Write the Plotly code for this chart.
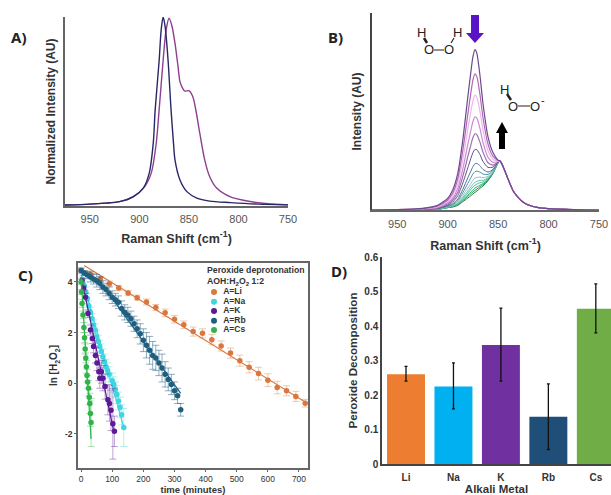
import plotly.graph_objects as go

W, H = 611, 495
FONT = "Liberation Sans"

# Panel A
a_dark_x = [975,950,935,920,906,896,890,886,884,880,878,876,874,871,868,865.5,864,859,852,842,829,808,780,750]
a_dark_y = [0.005,0.01,0.015,0.023,0.05,0.095,0.174,0.33,0.51,0.77,0.93,1.0,0.95,0.77,0.51,0.33,0.243,0.138,0.076,0.042,0.026,0.018,0.01,0.006]
a_mag_x = [975,950,935,920,906,895,888,883,880,876,873,870,867,864,861,859,856,854,850,846,843,839,834,829,822,808,790,770,750]
a_mag_y = [0.005,0.01,0.015,0.023,0.05,0.1,0.174,0.33,0.51,0.77,0.93,0.993,0.95,0.86,0.74,0.658,0.62,0.608,0.61,0.578,0.508,0.385,0.243,0.155,0.095,0.048,0.025,0.012,0.006]

# Panel B
b_left_x = [975,950,925,910,900,895,890,885,880,877,875,873,871,868,865,860,855,850]
b_tail_x = [848,845,840,835,830,825,820,810,800,775,750]
b_tail_y = [147,130,92,57,37,23,15,7,4,1,0]
b_curves = [
    [0,1,5,14,35,60,110,210,340,415,460,482,470,405,320,220,172,150],
    [0,1,4,12,30,51,94,179,288,352,390,409,400,347,278,198,161,149],
    [0,1,4,10,26,44,79,151,243,296,328,345,338,296,241,178,152,147],
    [0,1,3,8,22,36,65,123,197,240,266,280,276,245,203,158,143,146],
    [0,0,3,7,18,30,53,101,161,196,217,229,226,204,174,142,135,145],
    [0,0,2,6,15,24,43,81,127,155,172,182,181,167,146,128,129,144],
    [0,0,2,4,13,19,33,62,97,117,130,139,140,133,122,114,122,144],
    [0,0,2,4,11,16,28,52,80,97,108,115,117,114,108,107,119,143],
    [0,0,1,3,10,14,24,44,66,80,89,96,98,99,97,101,116,143],
    [0,0,1,3,9,13,21,38,57,69,77,83,86,89,89,97,114,143],
    [0,0,1,3,8,12,19,34,51,62,69,74,78,82,84,95,113,142],
    [0,0,1,2,8,11,17,31,45,54,60,66,69,75,79,92,112,142],
    [0,0,1,2,7,10,15,28,41,49,54,59,63,70,76,90,111,142],
    [0,0,1,2,7,9,14,25,36,43,48,53,57,65,72,88,110,142],
]
b_colors = ["#6b4a90","#b565b8","#eab8ea","#cf8ad4","#9a6fb0","#5c5088","#55708f","#4f8ea3","#86c6cc","#66c2b4","#44c092","#30b274","#239455","#2a7f42"]

# Panel C
li_t = [0,30,62,91,121,151,180,210,240,270,300,330,360,390,420,450,480,510,540,570,600,630,660,690,720]
li_y = [4.45,4.3,4.13,3.93,3.76,3.56,3.38,3.21,2.99,2.78,2.53,2.31,2.04,1.97,1.72,1.47,1.19,0.89,0.63,0.38,0.12,-0.17,-0.3,-0.52,-0.79]
li_e = [0.1,0.1,0.1,0.1,0.1,0.1,0.1,0.12,0.12,0.15,0.15,0.15,0.18,0.18,0.2,0.2,0.2,0.22,0.22,0.25,0.25,0.25,0.2,0.2,0.15]
na_t = [5,10,15,20,25,30,35,40,45,50,55,60,65,70,75,80,85,90,100,105,110,115,120,125,130,137]
na_y = [4.1,3.85,3.6,3.35,3.05,2.8,2.55,2.3,2.1,1.85,1.65,1.45,1.25,1.05,0.85,0.65,0.5,0.35,0.1,-0.05,-0.25,-0.45,-0.7,-0.95,-1.25,-1.75]
na_e = [0.15,0.15,0.2,0.2,0.2,0.2,0.2,0.2,0.25,0.25,0.25,0.25,0.3,0.3,0.3,0.3,0.3,0.3,0.3,0.3,0.3,0.35,0.35,0.4,0.4,0.75]
k_t = [3,8,14,22,30,36,40,46,51,57,60,65,70,77,86,91,96,102,107]
k_y = [4.05,3.75,3.4,2.75,2.1,1.77,1.45,1.1,0.8,0.45,0.2,0.45,0.2,-0.13,-0.65,-0.8,-1.07,-1.6,-1.9]
k_e = [0.1,0.1,0.15,0.15,0.2,0.2,0.25,0.3,0.3,0.35,0.4,0.45,0.5,0.5,0.6,0.7,0.8,1.4,0.6]
rb_t = [0,10,20,30,40,50,60,70,80,90,100,110,120,130,140,150,160,170,180,190,200,210,220,230,240,250,260,270,280,290,300,310,320]
rb_y = [4.45,4.35,4.28,4.2,4.12,4.05,3.95,3.8,3.7,3.55,3.4,3.3,3.2,2.95,2.8,2.7,2.55,2.35,2.15,1.95,1.7,1.5,1.3,1.1,1.0,0.8,0.6,0.35,0.15,-0.05,-0.3,-0.5,-1.05]
rb_e = [0.1,0.1,0.15,0.2,0.2,0.25,0.25,0.25,0.25,0.25,0.25,0.25,0.25,0.3,0.3,0.3,0.3,0.3,0.35,0.4,0.45,0.5,0.55,0.55,0.5,0.5,0.55,0.5,0.45,0.4,0.35,0.3,0.25]
cs_t = [0,1,3,6,9,11,13,15,17,19,21,24,26,28,30,32]
cs_y = [4.0,3.6,3.15,2.7,2.2,1.8,1.35,1.0,0.65,0.3,0.05,-0.2,-0.55,-0.8,-1.2,-1.55]
cs_e = [0.1,0.1,0.15,0.15,0.2,0.2,0.2,0.2,0.25,0.25,0.25,0.3,0.3,0.4,0.5,0.95]

c_names = ["A=Li","A=Na","A=K","A=Rb","A=Cs"]
c_colors = ["#d9773f","#3fd4e0","#5c1a96","#1f5f80","#2fb34a"]
c_err_colors = ["rgba(217,119,63,0.4)","rgba(63,212,224,0.4)","rgba(92,26,150,0.4)","rgba(31,95,128,0.5)","rgba(47,179,74,0.4)"]
c_series = [(li_t,li_y,li_e),(na_t,na_y,na_e),(k_t,k_y,k_e),(rb_t,rb_y,rb_e),(cs_t,cs_y,cs_e)]
c_fit_t = [[10,725],[0,137],[0,105],[0,80,320],[0,32]]
c_fit_y = [[4.65,-0.78],[4.3,-1.75],[4.2,-1.9],[4.4,3.7,-0.4],[4.2,-2.2]]
key_y = [3.6,3.22,2.85,2.47,2.1]

# Panel D
metals = ["Li","Na","K","Rb","Cs"]
decomp = [0.26,0.225,0.345,0.137,0.45]
decomp_up = [0.023,0.068,0.107,0.095,0.072]
decomp_dn = [0.02,0.065,0.105,0.095,0.07]
d_colors = ["#ed7d31","#00b0f0","#7030a0","#1f4e79","#70ad47"]

def px(x): return x/W
def py(y): return 1-y/H
def dx(l, r): return [px(l), px(r)]
def dy(t, b): return [py(b), py(t)]

fig = go.Figure()

# A
fig.add_trace(go.Scatter(x=a_mag_x,y=a_mag_y,mode="lines",line=dict(color="#8e3f90",width=1.4,shape="spline",smoothing=0.8),xaxis="x",yaxis="y",showlegend=False,cliponaxis=False))
fig.add_trace(go.Scatter(x=a_dark_x,y=a_dark_y,mode="lines",line=dict(color="#2a2768",width=1.4,shape="spline",smoothing=0.8),xaxis="x",yaxis="y",showlegend=False,cliponaxis=False))

# B
for i in range(len(b_curves)-1,-1,-1):
    fig.add_trace(go.Scatter(x=b_left_x+b_tail_x,y=b_curves[i]+b_tail_y,mode="lines",
        line=dict(color=b_colors[i],width=1.2 if i < 5 else 1,shape="spline",smoothing=0.6),xaxis="x2",yaxis="y2",showlegend=False))

# C
for i,(t,y,e) in enumerate(c_series):
    fig.add_trace(go.Scatter(x=t,y=y,mode="markers",name=c_names[i],
        marker=dict(color=c_colors[i],size=5.5),
        error_y=dict(type="data",array=e,color=c_err_colors[i],thickness=1,width=3.5),
        xaxis="x3",yaxis="y3",showlegend=False))
    fig.add_trace(go.Scatter(x=c_fit_t[i],y=c_fit_y[i],mode="lines",line=dict(color=c_colors[i],width=1.2),
        xaxis="x3",yaxis="y3",showlegend=False))
fig.add_trace(go.Scatter(x=[427]*5,y=key_y,mode="markers+text",
    marker=dict(color=c_colors,size=6),text=["<b>  %s</b>"%n for n in c_names],textposition="middle right",
    textfont=dict(family=FONT,size=8.5,color="#333"),xaxis="x3",yaxis="y3",showlegend=False))

# D
fig.add_trace(go.Bar(x=metals,y=decomp,width=0.8,marker=dict(color=d_colors,line=dict(width=0)),
    error_y=dict(type="data",symmetric=False,array=decomp_up,arrayminus=decomp_dn,color="#111",thickness=1.3,width=1.5),
    xaxis="x4",yaxis="y4",showlegend=False))

grey = "#666666"
txt = "#333333"
clear = "rgba(0,0,0,0)"
def spec_x(anchor, dom, title, standoff, gap):
    return dict(domain=dom,anchor=anchor,range=[975,750],tickvals=[950,900,850,800,750],ticks="outside",ticklen=gap,tickcolor=clear,automargin=False,
        showgrid=False,zeroline=False,showline=True,linecolor=grey,linewidth=1.5,
        tickfont=dict(family=FONT,size=11,color="#555"),
        title=dict(text=title,font=dict(family=FONT,size=12.5,color=txt),standoff=standoff))

layout = dict(
    width=W,height=H,margin=dict(l=0,r=0,t=0,b=0),paper_bgcolor="white",plot_bgcolor="white",
    showlegend=False,bargap=0.2,
    xaxis=spec_x("y",dx(65,288),"<b>Raman Shift (cm<sup>-1</sup>)</b>",10,2),
    yaxis=dict(domain=dy(17,206),anchor="x",range=[0,1.0],showticklabels=False,ticks="",showgrid=False,zeroline=False,automargin=False,
        showline=True,linecolor=grey,linewidth=1.5,
        title=dict(text="<b>Normalized Intensity (AU)</b>",font=dict(family=FONT,size=12,color=txt),standoff=5)),
    xaxis2=spec_x("y2",dx(372,599),"<b>Raman Shift (cm<sup>-1</sup>)</b>",12,3),
    yaxis2=dict(domain=dy(13,210),anchor="x2",range=[0,592],showticklabels=False,ticks="",showgrid=False,zeroline=False,automargin=False,
        showline=True,linecolor="#444",linewidth=1.5,
        title=dict(text="<b>Intensity (AU)</b>",font=dict(family=FONT,size=12,color=txt),standoff=6)),
    xaxis3=dict(domain=dx(78,308),anchor="y3",range=[-10,729],tickvals=[0,100,200,300,400,500,600,700],ticks="outside",ticklen=2,automargin=False,
        tickcolor=grey,showgrid=False,zeroline=False,showline=True,mirror=True,linecolor=grey,linewidth=1.5,
        tickfont=dict(family=FONT,size=8.5,color=txt),tickprefix="<b>",ticksuffix="</b>",
        title=dict(text="<b>time (minutes)</b>",font=dict(family=FONT,size=9.5,color=txt),standoff=2)),
    yaxis3=dict(domain=dy(263,468),anchor="x3",range=[-3.35,4.75],tickvals=[-2,0,2,4],ticktext=["<b>-2</b>","<b>0</b>","<b>2</b>","<b>4</b>"],ticks="outside",ticklen=2,automargin=False,
        tickcolor=grey,showgrid=False,zeroline=False,showline=True,mirror=True,linecolor=grey,linewidth=1.5,
        tickfont=dict(family=FONT,size=8.5,color=txt),
        title=dict(text="<b>ln [H<sub>2</sub>O<sub>2</sub>]</b>",font=dict(family=FONT,size=10,color=txt),standoff=5)),
    xaxis4=dict(domain=dx(382,611),anchor="y4",type="category",range=[-0.506,4.32],ticks="outside",ticklen=3,tickcolor=clear,showgrid=False,zeroline=False,automargin=False,
        showline=True,linecolor="#444",linewidth=1.5,tickfont=dict(family=FONT,size=10,color=txt),
        tickvals=metals,ticktext=["<b>%s</b>"%m for m in metals],
        title=dict(text="<b>Alkali Metal</b>",font=dict(family=FONT,size=11.5,color=txt),standoff=4)),
    yaxis4=dict(domain=dy(257,464),anchor="x4",range=[0,0.6],tickvals=[0,0.1,0.2,0.3,0.4,0.5,0.6],automargin=False,
        ticktext=["<b>%s</b>"%s for s in ["0","0.1","0.2","0.3","0.4","0.5","0.6"]],ticks="",showgrid=False,zeroline=False,
        showline=True,mirror=True,linecolor="#444",linewidth=1.5,tickfont=dict(family=FONT,size=10,color=txt),
        title=dict(text="<b>Peroxide Decomposition</b>",font=dict(family=FONT,size=11.6,color=txt),standoff=4)),
)

def note(x, y, text, size=12, color="#222", family=FONT, anchor="center"):
    return dict(xref="paper",yref="paper",x=px(x),y=py(y),text=text,showarrow=False,xanchor=anchor,yanchor="middle",
                font=dict(family=family,size=size,color=color))

layout["annotations"] = [
    note(18,37,"<b>A)</b>",15,"#222","Noto Sans"),
    note(335,37,"<b>B)</b>",15,"#222","Noto Sans"),
    note(25,275,"<b>C)</b>",15,"#222","Noto Sans"),
    note(339,271,"<b>D)</b>",15,"#222","Noto Sans"),
    note(205,270,"<b>Peroxide deprotonation</b>",8.7,txt,anchor="left"),
    note(205,281,"<b>AOH:H<sub>2</sub>O<sub>2</sub> 1:2</b>",8.7,txt,anchor="left"),
    note(421,33,"H",13), note(429,50,"O",13), note(449,50,"O",13), note(457,33,"H",13),
    note(504,89,"H",13), note(513,106,"O",13), note(535,106,"O",13), note(543,100,"-",11),
]

def path(points, color):
    d = "M" + " L".join("%.4f,%.4f" % (px(x),py(y)) for x,y in points) + " Z"
    return dict(type="path",xref="paper",yref="paper",path=d,fillcolor=color,line=dict(width=0))
def seg(x0,y0,x1,y1,w=1,color="#222"):
    return dict(type="line",xref="paper",yref="paper",x0=px(x0),y0=py(y0),x1=px(x1),y1=py(y1),line=dict(color=color,width=w))

layout["shapes"] = [
    path([(471,15),(479,15),(479,33),(484,33),(475,43),(466,33),(471,33)],"#5a14c8"),
    path([(499,149),(505,149),(505,133),(508,133),(502,122),(496,133),(499,133)],"#000000"),
    seg(434,50,444,50), seg(424,38,427,43,2.5), seg(454,38,451,43,1.2),
    seg(518,106,530,106), seg(507,94,511,100,2.5),
]

fig.update_layout(**layout)
fig.write_html("out.html", config={"displayModeBar": False},
               post_script="document.body.style.margin='0';document.documentElement.style.overflow='hidden';")
